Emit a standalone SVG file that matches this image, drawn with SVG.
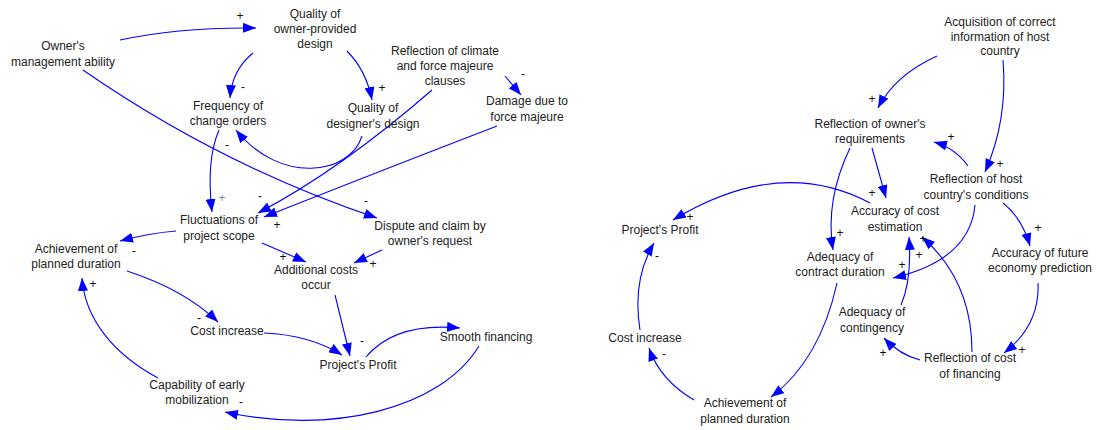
<svg xmlns="http://www.w3.org/2000/svg" width="1097" height="430" viewBox="0 0 1097 430">
<defs>
<marker id="ah" markerUnits="userSpaceOnUse" markerWidth="14" markerHeight="10" refX="13" refY="5" orient="auto"><path d="M0,0 L13,5 L0,10 z" fill="#0000FF"/></marker>
<style>
text{font-family:"Liberation Sans",Arial,sans-serif;font-size:12px;fill:#222;text-anchor:middle}
.lk{fill:none;stroke:#0000FF;stroke-width:1.1;marker-end:url(#ah)}
.sg{font-size:12px;fill:#111}
.gr{fill:#888}
</style>
</defs>
<rect width="1097" height="430" fill="#fff"/>
<g id="connectors">
<path class="lk" d="M120,40 Q180,27 256,28"/>
<path class="lk" d="M83,70 Q220,165 377,218"/>
<path class="lk" d="M253,53 Q232,70 230,98"/>
<path class="lk" d="M347,51 Q366,70 372,100"/>
<path class="lk" d="M505,76 L521,95"/>
<path class="lk" d="M362,136 C350,175 280,185 236,130"/>
<path class="lk" d="M219,130 Q206,160 212,212"/>
<path class="lk" d="M432,90 Q340,170 258,213"/>
<path class="lk" d="M497,126 Q370,175 264,217"/>
<path class="lk" d="M176,231 Q150,233 120,241"/>
<path class="lk" d="M262,243 L306,262"/>
<path class="lk" d="M382,250 L354,263"/>
<path class="lk" d="M127,271 Q185,290 218,322"/>
<path class="lk" d="M264,333 Q310,335 342,355"/>
<path class="lk" d="M335,295 L350,356"/>
<path class="lk" d="M366,357 Q395,322 460,328"/>
<path class="lk" d="M479,346 C440,410 330,435 225,412"/>
<path class="lk" d="M158,378 C115,355 85,320 82,278"/>
<path class="lk" d="M937,56 Q895,75 878,108"/>
<path class="lk" d="M1003,60 Q1008,120 985,172"/>
<path class="lk" d="M968,166 Q955,148 934,142"/>
<path class="lk" d="M872,148 L886,198"/>
<path class="lk" d="M850,148 Q825,200 833,250"/>
<path class="lk" d="M870,203 Q780,155 673,220"/>
<path class="lk" d="M975,205 Q970,260 893,278"/>
<path class="lk" d="M1003,203 Q1022,218 1030,246"/>
<path class="lk" d="M901,305 Q912,280 909,237"/>
<path class="lk" d="M972,352 C972,310 960,270 922,237"/>
<path class="lk" d="M1038,283 Q1040,325 1004,353"/>
<path class="lk" d="M920,360 Q900,355 884,338"/>
<path class="lk" d="M837,283 Q820,360 771,397"/>
<path class="lk" d="M694,400 Q660,380 649,348"/>
<path class="lk" d="M640,330 Q632,280 654,243"/>
</g>
<g id="signs">
<text class="sg" x="240" y="20">+</text>
<text class="sg" x="366" y="205">-</text>
<text class="sg" x="243" y="91">-</text>
<text class="sg" x="382" y="92">+</text>
<text class="sg" x="523" y="78">-</text>
<text class="sg" x="227" y="149">-</text>
<text class="sg gr" x="222" y="202">+</text>
<text class="sg" x="260" y="200">-</text>
<text class="sg" x="277" y="229">+</text>
<text class="sg" x="134" y="255">-</text>
<text class="sg" x="283" y="261">+</text>
<text class="sg" x="373" y="268">+</text>
<text class="sg" x="199" y="322">-</text>
<text class="sg" x="362" y="345">-</text>
<text class="sg" x="241" y="406">-</text>
<text class="sg" x="93" y="288">+</text>
<text class="sg" x="872" y="103">+</text>
<text class="sg" x="1000" y="168">+</text>
<text class="sg" x="951" y="141">+</text>
<text class="sg" x="872" y="197">+</text>
<text class="sg" x="840" y="237">+</text>
<text class="sg" x="690" y="221">+</text>
<text class="sg" x="902" y="269">+</text>
<text class="sg" x="1038" y="232">+</text>
<text class="sg" x="923" y="243">+</text>
<text class="sg" x="919" y="259">+</text>
<text class="sg" x="1022" y="354">+</text>
<text class="sg" x="883" y="357">+</text>
<text class="sg" x="664" y="358">-</text>
<text class="sg" x="657" y="260">-</text>
</g>
<g id="n-owner-ability"><text x="63" y="50">Owner's</text><text x="63" y="66">management ability</text></g>
<g id="n-quality-owner-design"><text x="315" y="18">Quality of</text><text x="315" y="33">owner-provided</text><text x="315" y="48">design</text></g>
<g id="n-climate-clauses"><text x="445" y="55">Reflection of climate</text><text x="445" y="70">and force majeure</text><text x="445" y="85">clauses</text></g>
<g id="n-frequency-change"><text x="228" y="110">Frequency of</text><text x="228" y="125">change orders</text></g>
<g id="n-quality-designer"><text x="373" y="112">Quality of</text><text x="373" y="128">designer's design</text></g>
<g id="n-damage"><text x="527" y="105">Damage due to</text><text x="527" y="121">force majeure</text></g>
<g id="n-fluctuations"><text x="219" y="224">Fluctuations of</text><text x="219" y="240">project scope</text></g>
<g id="n-dispute"><text x="430" y="230">Dispute and claim by</text><text x="430" y="245">owner's request</text></g>
<g id="n-achievement-l"><text x="76" y="253">Achievement of</text><text x="76" y="268">planned duration</text></g>
<g id="n-additional-costs"><text x="316" y="274">Additional costs</text><text x="316" y="289">occur</text></g>
<g id="n-cost-increase-l"><text x="227" y="335">Cost increase</text></g>
<g id="n-profit-l"><text x="358" y="369">Project's Profit</text></g>
<g id="n-smooth-financing"><text x="486" y="341">Smooth financing</text></g>
<g id="n-early-mobilization"><text x="197" y="389">Capability of early</text><text x="197" y="404">mobilization</text></g>
<g id="n-acquisition"><text x="1000" y="26">Acquisition of correct</text><text x="1000" y="41">information of host</text><text x="1000" y="55">country</text></g>
<g id="n-owner-req"><text x="870" y="128">Reflection of owner's</text><text x="870" y="143">requirements</text></g>
<g id="n-host-conditions"><text x="976" y="183">Reflection of host</text><text x="976" y="199">country's conditions</text></g>
<g id="n-cost-estimation"><text x="895" y="215">Accuracy of cost</text><text x="895" y="231">estimation</text></g>
<g id="n-profit-r"><text x="660" y="234">Project's Profit</text></g>
<g id="n-contract-duration"><text x="840" y="261">Adequacy of</text><text x="840" y="276">contract duration</text></g>
<g id="n-economy-prediction"><text x="1040" y="257">Accuracy of future</text><text x="1040" y="272">economy prediction</text></g>
<g id="n-contingency"><text x="872" y="316">Adequacy of</text><text x="872" y="332">contingency</text></g>
<g id="n-cost-increase-r"><text x="645" y="342">Cost increase</text></g>
<g id="n-cost-financing"><text x="970" y="362">Reflection of cost</text><text x="970" y="378">of financing</text></g>
<g id="n-achievement-r"><text x="745" y="407">Achievement of</text><text x="745" y="423">planned duration</text></g>
</svg>
